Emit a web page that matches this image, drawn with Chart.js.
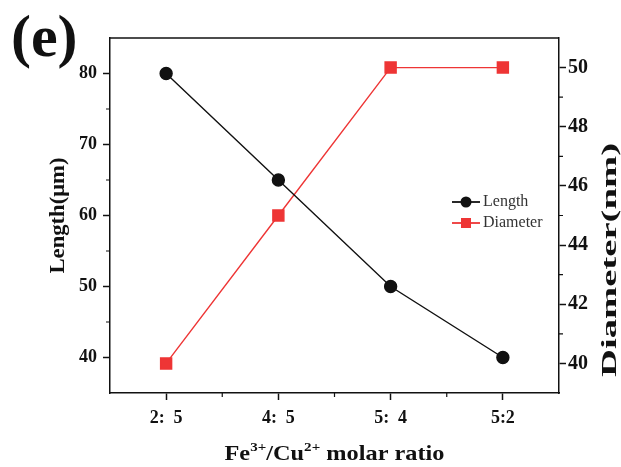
<!DOCTYPE html>
<html>
<head>
<meta charset="utf-8">
<script src="https://cdn.jsdelivr.net/npm/chart.js@4.4.4/dist/chart.umd.min.js"></script>
<style>
  html, body { margin: 0; padding: 0; background: #fff; }
  #wrap { width: 621px; height: 467px; }
</style>
</head>
<body>
<div id="wrap"><canvas id="c"></canvas></div>
<script>
// data
const ratios = ['2:  5', '4:  5', '5:  4', '5:2'];
const lengthUm = [80, 65, 50, 40];
const diameterNm = [40, 45, 50, 50];
const lengthTicks = [40, 50, 60, 70, 80];
const lengthMinor = [45, 55, 65, 75];
const diameterTicks = [40, 42, 44, 46, 48, 50];
const diameterMinor = [41, 43, 45, 47, 49];

const INK = '#111';
const RED = '#ee3535';
const SERIF = '"Liberation Serif", "Times New Roman", serif';

// frame top, minor ticks, titles, legend, panel letter
const decor = {
  id: 'decor',
  afterDraw(chart) {
    const { ctx, chartArea: a, scales } = chart;
    ctx.save();
    ctx.strokeStyle = INK;
    ctx.lineWidth = 1.5;
    ctx.beginPath();
    ctx.moveTo(a.left, a.top); ctx.lineTo(a.right, a.top);
    ctx.stroke();

    // minor ticks
    ctx.lineWidth = 1.2;
    ctx.beginPath();
    lengthMinor.forEach(v => {
      const y = scales.yL.getPixelForValue(v);
      ctx.moveTo(a.left - 4, y); ctx.lineTo(a.left, y);
    });
    diameterMinor.forEach(v => {
      const y = scales.yR.getPixelForValue(v);
      ctx.moveTo(a.right, y); ctx.lineTo(a.right + 4, y);
    });
    for (let i = 0; i < ratios.length - 1; i++) {
      const x = (scales.x.getPixelForValue(i) + scales.x.getPixelForValue(i + 1)) / 2;
      ctx.moveTo(x, a.bottom); ctx.lineTo(x, a.bottom + 4);
    }
    ctx.stroke();

    ctx.fillStyle = INK;

    // panel letter
    ctx.font = 'bold 60px ' + SERIF;
    ctx.textAlign = 'left'; ctx.textBaseline = 'alphabetic';
    ctx.fillText('(e)', 11, 56);

    // left title
    ctx.font = 'bold 21px ' + SERIF;
    ctx.textAlign = 'center'; ctx.textBaseline = 'middle';
    ctx.save();
    ctx.translate(59, (a.top + a.bottom) / 2);
    ctx.rotate(-Math.PI / 2);
    let w = ctx.measureText('Length(μm)').width;
    ctx.scale(116 / w, 1);
    ctx.fillText('Length(μm)', 0, 0);
    ctx.restore();

    // right title (stretched in the original)
    ctx.save();
    ctx.translate(611, 260);
    ctx.rotate(-Math.PI / 2);
    w = ctx.measureText('Diameter(nm)').width;
    ctx.scale(234 / w, 1);
    ctx.fillText('Diameter(nm)', 0, 0);
    ctx.restore();

    // x title with superscripts
    const parts = [['Fe', 0], ['3+', 1], ['/Cu', 0], ['2+', 1], [' molar ratio', 0]];
    const big = 'bold 21px ' + SERIF, small = 'bold 13px ' + SERIF;
    let total = 0;
    parts.forEach(([t, s]) => { ctx.font = s ? small : big; total += ctx.measureText(t).width; });
    const sx = 220 / total;
    let x = (a.left + a.right) / 2 - 110;
    ctx.textAlign = 'left'; ctx.textBaseline = 'alphabetic';
    parts.forEach(([t, s]) => {
      ctx.font = s ? small : big;
      const tw = ctx.measureText(t).width * sx;
      ctx.save();
      ctx.translate(x, s ? 451 : 460);
      ctx.scale(sx, 1);
      ctx.fillText(t, 0, 0);
      ctx.restore();
      x += tw;
    });

    // legend
    const items = chart.data.datasets;
    ctx.font = '16px ' + SERIF;
    ctx.textBaseline = 'middle';
    items.forEach((ds, i) => {
      const y = 202 + i * 21;
      ctx.strokeStyle = ds.borderColor;
      ctx.lineWidth = 1.8;
      ctx.beginPath(); ctx.moveTo(452, y); ctx.lineTo(480, y); ctx.stroke();
      ctx.fillStyle = ds.borderColor;
      ctx.beginPath();
      if (ds.pointStyle === 'rect') ctx.rect(461, y - 5, 10, 10);
      else ctx.arc(466, y, 5.5, 0, Math.PI * 2);
      ctx.fill();
      ctx.fillStyle = '#333';
      ctx.fillText(ds.label, 483, y);
    });
    ctx.restore();
  }
};

const tickFont = { family: SERIF, size: 18, weight: 'bold' };

new Chart(document.getElementById('c'), {
  type: 'line',
  data: {
    labels: ratios,
    datasets: [
      {
        label: 'Length', data: lengthUm, yAxisID: 'yL',
        borderColor: INK, backgroundColor: INK, borderWidth: 1.4,
        pointStyle: 'circle', pointRadius: 6, tension: 0
      },
      {
        label: 'Diameter', data: diameterNm, yAxisID: 'yR',
        borderColor: RED, backgroundColor: RED, borderWidth: 1.4,
        pointStyle: 'rect', pointRadius: 7.8, tension: 0
      }
    ]
  },
  options: {
    responsive: true,
    maintainAspectRatio: false,
    animation: false,
    devicePixelRatio: 1,
    layout: { padding: { top: 38, left: 0, right: 0, bottom: 0 } },
    plugins: { legend: { display: false }, tooltip: { enabled: false } },
    scales: {
      x: {
        offset: true,
        afterFit: s => { s.height = 74; },
        grid: { drawOnChartArea: false, tickLength: 7, tickColor: INK, tickWidth: 1.5 },
        border: { color: INK, width: 1.5 },
        ticks: { color: INK, font: tickFont, padding: 8, maxRotation: 0 }
      },
      yL: {
        position: 'left', min: 35, max: 85,
        afterBuildTicks: s => { s.ticks = lengthTicks.map(v => ({ value: v })); },
        afterFit: s => { s.width = 110; },
        grid: { drawOnChartArea: false, tickLength: 7, tickColor: INK, tickWidth: 1.5 },
        border: { color: INK, width: 1.5 },
        ticks: { color: INK, font: tickFont, padding: 6 }
      },
      yR: {
        position: 'right', min: 39, max: 51,
        afterBuildTicks: s => { s.ticks = diameterTicks.map(v => ({ value: v })); },
        afterFit: s => { s.width = 62; },
        grid: { drawOnChartArea: false, tickLength: 7, tickColor: INK, tickWidth: 1.5 },
        border: { color: INK, width: 1.5 },
        ticks: { color: INK, font: { family: SERIF, size: 20, weight: 'bold' }, padding: 2 }
      }
    }
  },
  plugins: [decor]
});
</script>
</body>
</html>
